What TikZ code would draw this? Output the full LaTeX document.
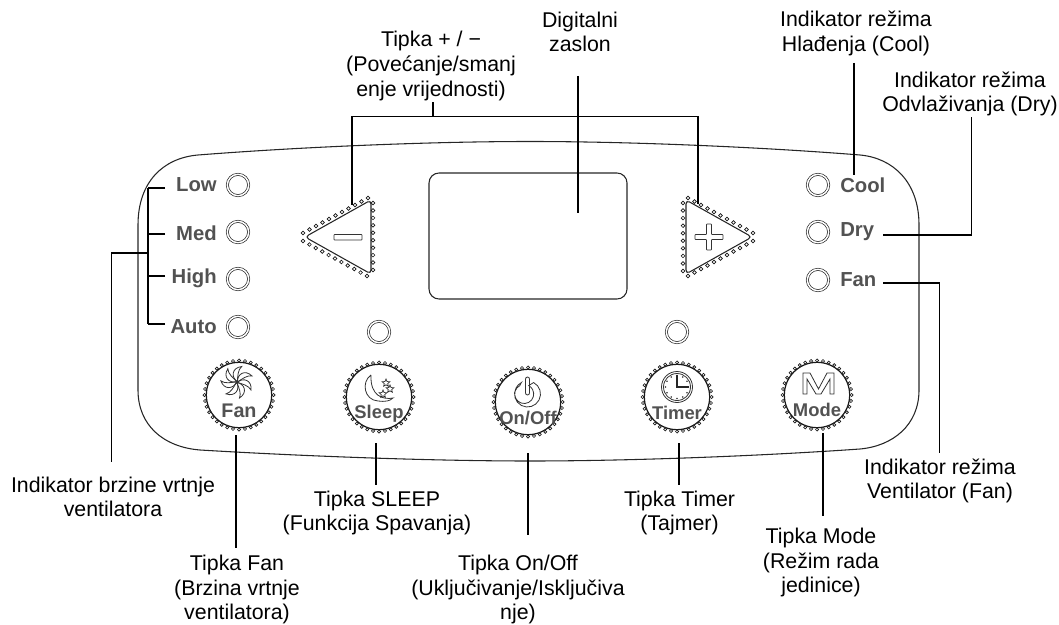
\documentclass[tikz,border=0pt]{standalone}
\usepackage{fontspec}
\setmainfont{Liberation Sans}
\usetikzlibrary{calc,shapes.geometric}
\begin{document}
\begin{tikzpicture}[x=0.75pt,y=-0.75pt,
	panel/.style={draw=black!85,line width=0.8pt},
	leader/.style={draw=black,line width=1.15pt},
	callout/.style={align=center,inner sep=1pt,font=\fontsize{16}{18.4}\selectfont},
	keytext/.style={inner sep=0,text=black!68,font=\fontsize{15.2}{16}\selectfont\bfseries},
	btntext/.style={inner sep=0,text=black!68,font=\fontsize{13.8}{15}\selectfont\bfseries},
	led/.style={circle,draw=black!85,line width=0.5pt,double,double distance=1.1pt,minimum size=16pt,inner sep=0},
	btn/.style={circle,draw=black!90,line width=0.9pt,minimum size=49pt,inner sep=0},
	bead/.style={draw=black!90,fill=white,line width=0.5pt},
	icon/.style={draw=black!80,line width=0.6pt},
	starmark/.style={star,star points=5,star point ratio=2.2,draw=black!85,line width=0.5pt,minimum size=6pt,inner sep=0}]
\useasboundingbox (0,0) rectangle (1059,624);
\draw[panel] (138,225) .. controls (138,182) and (163,158) .. (198,155)
	.. controls (300,147) and (430,141.5) .. (530,141.5)
	.. controls (630,141.5) and (760,147) .. (860,155)
	.. controls (893,158) and (919,182) .. (919,225) -- (919,390)
	.. controls (919,425) and (893,446) .. (860,449)
	.. controls (760,456) and (630,461) .. (530,461)
	.. controls (430,461) and (300,456) .. (200,450)
	.. controls (163,447) and (138,425) .. (138,390) -- cycle;
\draw[panel,rounded corners=7.5pt] (429,173) rectangle (627,299);
\foreach \n/\x/\y in {ledlow/238/185,ledmed/238/232,ledhigh/238/279,ledauto/238/327,
	ledcool/818/185,leddry/818/232,ledfan/818/280,ledsleep/379/332,ledtimer/677/332}
	\node[led] (\n) at (\x,\y) {};
\foreach \n/\y/\t in {txtlow/185/Low,txtmed/233/Med,txthigh/278/High,txtauto/327/Auto}
	\node[keytext,anchor=east] (\n) at (217,\y) {\t};
\foreach \n/\y/\t in {txtcool/185/Cool,txtdry/232/Dry,txtfan/280/Fan}
	\node[keytext,anchor=west] (\n) at (840,\y) {\t};
\foreach \n/\x/\y in {btnfan/239/395,btnsleep/379/397,btnonoff/528/402,btntimer/677/397,btnmode/817/395}{
	\node[btn] (\n) at (\x,\y) {};
	\foreach \a in {0,10,...,350}
		\draw[bead] (\n) ++(\a:34.5) circle (1.15pt);
}
\node[btntext,font=\fontsize{14.8}{16}\selectfont\bfseries] (lblfan) at (239,411) {Fan};
\node[btntext] (lblsleep) at (379,414) {Sleep};
\node[btntext] (lblonoff) at (528,418) {On/Off};
\node[btntext] (lbltimer) at (677,413) {Timer};
\node[btntext] (lblmode) at (817,410) {Mode};
\foreach \a in {0,51.4,...,350}
	\draw[icon,shift={(237,382)},rotate=\a] (0.5,0) .. controls (0,-8) and (8,-13) .. (15,-6)
		.. controls (10,-7) and (5,-3) .. (0.5,0);
\draw[icon] (371,375) .. controls (361,382) and (364,400) .. (378,401)
	.. controls (385,402) and (390,401) .. (393,398)
	.. controls (383,400) and (370,396) .. (371,375);
\foreach \n/\x/\y in {stara/386/383,starb/390/389,starc/383/394}
	\node[starmark] (\n) at (\x,\y) {};
\draw[icon] (527.5,394) ++(-62:13) arc (-62:242:13) -- ++(-62:-3.5) arc (242:-62:9.5) -- cycle;
\draw[icon,rounded corners=1.5pt] (525.5,377) rectangle (529.5,395);
\draw[icon] (677,387) circle (15.5) circle (13.5);
\foreach \a in {0,30,...,330}
	\fill[black!80] (677,387) ++(\a:11.5) circle (0.7pt);
\draw[black!85,line width=1.1pt] (677,375) -- (677,387) -- (689,387);
\draw[icon] (803,373) -- (810,373) -- (818.5,389) -- (827,373) -- (834,373) -- (834,394) -- (830,394)
	-- (830,379) -- (821,394) -- (816,394) -- (807,379) -- (807,394) -- (803,394) -- cycle;
\draw[panel,rounded corners=3pt] (371,200) -- (371,274) -- (305,237) -- cycle;
\draw[panel,rounded corners=3pt] (686,200) -- (686,274) -- (752,237) -- cycle;
\foreach \ax/\ay/\bx/\by/\k in {303/233/368/198/10,373/203/373/270/9,367/276/303/241/10,
	688/198/753/233/10,753/241/688/276/10,683/203/683/271/9}
	\foreach \i in {0,...,\k}
		\draw[bead] ($(\ax,\ay)!\i/\k!(\bx,\by)$) circle (1.4pt);
\draw[icon,rounded corners=0.5pt] (334,234.5) rectangle (362,240);
\draw[icon,rounded corners=0.5pt] (706.5,224) -- (711.5,224) -- (711.5,234.5) -- (723,234.5) -- (723,239.5)
	-- (711.5,239.5) -- (711.5,250) -- (706.5,250) -- (706.5,239.5) -- (695,239.5) -- (695,234.5)
	-- (706.5,234.5) -- cycle;
\node[callout] (plusminus) at (431,66) {Tipka + / −\\(Povećanje/smanj\\enje vrijednosti)};
\node[callout] (screen) at (580,32) {Digitalni\\zaslon};
\node[callout] (coolmode) at (856,33.5) {Indikator režima\\Hlađenja (Cool)};
\node[callout] (drymode) at (970,94) {Indikator režima\\Odvlaživanja (Dry)};
\node[callout] (fanmode) at (940,481) {Indikator režima\\Ventilator (Fan)};
\node[callout] (fanspeed) at (113,497) {Indikator brzine vrtnje\\ventilatora};
\node[callout] (fankey) at (237,589.5) {Tipka Fan\\(Brzina vrtnje\\ventilatora)};
\node[callout] (sleepkey) at (377,513) {Tipka SLEEP\\(Funkcija Spavanja)};
\node[callout] (onoffkey) at (518,589.5) {Tipka On/Off\\(Uključivanje/Isključiva\\nje)};
\node[callout] (timerkey) at (679.5,513) {Tipka Timer\\(Tajmer)};
\node[callout] (modekey) at (821,562.5) {Tipka Mode\\(Režim rada\\jedinice)};
\coordinate (minustop) at (352,205);
\coordinate (plustop) at (698,204);
\coordinate (bracketmid) at (433,116.5);
\coordinate (stemtop) at (433,102);
\draw[leader] (minustop) -- (minustop |- bracketmid) -- (plustop |- bracketmid) -- (plustop);
\draw[leader] (bracketmid) -- (stemtop);
\coordinate (screenstart) at (578,76);
\coordinate (screenend) at (578,213);
\draw[leader] (screenstart) -- (screenend);
\coordinate (coolstart) at (854,63);
\coordinate (coolend) at (854,175);
\draw[leader] (coolstart) -- (coolend);
\coordinate (dryend) at (883,235);
\coordinate (drycorner) at (971.5,235);
\coordinate (drystart) at (971.5,117);
\draw[leader] (dryend) -- (drycorner) -- (drystart);
\coordinate (fanend) at (883,283);
\coordinate (fancorner) at (939.5,283);
\coordinate (fanstop) at (939.5,453);
\draw[leader] (fanend) -- (fancorner) -- (fanstop);
\coordinate (brackettip) at (148,188);
\coordinate (bracketend) at (148,324);
\draw[leader] (brackettip) -- (bracketend);
\foreach \n/\y in {low/188,med/234,high/276,auto/324}{
	\coordinate (tick\n) at (165,\y);
	\draw[leader] (tick\n) -- (tick\n -| brackettip);
}
\coordinate (speedbend) at (111.5,253);
\coordinate (speedstop) at (111.5,462);
\draw[leader] (brackettip |- speedbend) -- (speedbend) -- (speedstop);
\foreach \n/\x/\a/\b in {fankeyline/236/435/548,sleepkeyline/376/443/485,onoffkeyline/528/453/535,
	timerkeyline/679/443/485,modekeyline/823/433/516}{
	\coordinate (\n a) at (\x,\a);
	\coordinate (\n b) at (\x,\b);
	\draw[leader] (\n a) -- (\n b);
}
\end{tikzpicture}
\end{document}
